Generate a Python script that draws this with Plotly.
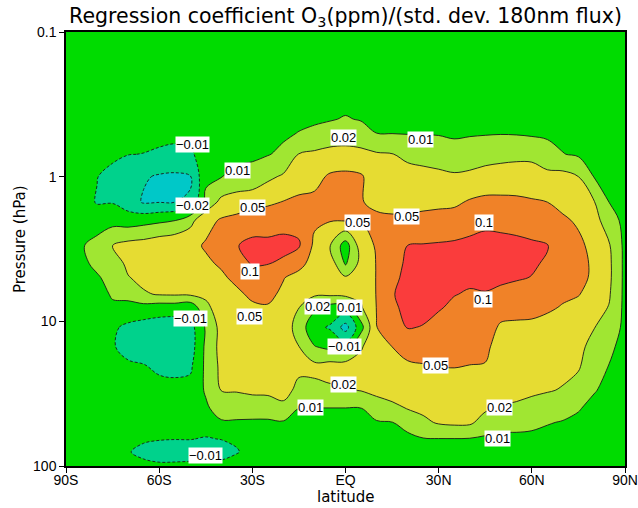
import numpy as np
import plotly.graph_objects as go

# ---------------- data ----------------
lats = list(range(-90, 95, 5))
pressures = [0.1, 0.2, 0.3, 0.4, 0.5, 0.7, 1, 1.5, 2, 3, 4, 5, 6.5, 8, 11, 15, 20, 30, 40, 50, 65, 80, 100]

# regression coefficient, in units of 0.001 ppm, one list per pressure level (lat -90 .. 90 step 5)
c_0p1 = [0]*37
c_0p2 = [0,0,0,0,0,0,0,0,0,0,0,0,0,0,0,1,1,2,2,2,1,1,1,1,1,1,1,1,1,1,1,1,0,0,0,0,0]
c_0p3 = [0,0,0,0,0,0,0,0,0,0,0,0,1,1,2,3,4,5,6,5,3,3,3,3,3,3,3,3,3,3,3,2,2,1,1,0,0]
c_0p4 = [0,0,0,0,-1,-1,-1,-1,-1,0,1,1,2,3,4,6,7,9,10.5,9,6,5,5,5,5,4,5,5,5,5,5,4,3,2,1,1,0]
c_0p5 = [0,-1,-1,-2,-3,-4,-4,-4,-4,1,2,3,4,5,7,10.3,12,13,14,13,10,9.5,9,9,8.5,7,8,8.5,9,8.5,7,6.5,5,3.5,2,1,0]
c_0p7 = [0,-3,-4,-6,-9.5,-10.2,-11.5,-13,-12,2,4,6,7,9,12,21,25,31,32,29,23,21,18,17,16,14,15,16.5,17.5,18,18,14,10.3,7.5,5,3,0]
c_1 = [0,-5,-9.5,-13,-17,-19,-22,-23,-21,5,9.5,12,13,18,24,38,42,56,60,55,35,31,30,28,26,24,26,30,31,32,31,28,30,20,9.5,6,0]
c_1p5 = [0,-4,-10.5,-10.5,-15,-22,-20.5,-20,-19.5,13,28,36,40,45,52,58,60,62,60,52,45,42,42,43,44,45,55,62,62,60,55,50,42,35,22,9.5,0]
c_2 = [0,0,-2,3,0,3,6,9,17,40,55,62,75,80,85,85,58,53,54,52,58,57,58,62,66,70,80,90,88,85,80,72,57,46,32,14,5]
c_3 = [0,8,14,20,30,33,40,45,42,55,70,98,125,120,125,110,44,21,0,35,55,70,101,106,110,115,124,128,125,120,112,104,72,60,42,22,5]
c_4 = [0,6,12,15,26,30,36,42,46,45,56,80,107,102,92,65,38,38,8,30,52,80,118,125,128,126,125,126,122,115,108,96,72,63,46,25,5]
c_5 = [0,3,8,13,19.5,27,30,36,38,35,45,62,80,80,52,40,33,40,24,30,52,88,125,132,132,120,115,118,113,106,99,88,68,61,46,25,5]
c_6p5 = [0,1,3,11,13,19,22,23,24,25,38,44,60,60,45,30,24,25,28,27,52,97,128,132,125,103,96,98,92,87,82,70,58,52,40,22,5]
c_8 = [0,0,0,7,4,3,0,0,-4,18,33,38,45,48,40,21,12,3,2,19,51,92,122,125,108,92,88,85,70,68,64,57,48,43,31,19.5,5]
c_11 = [0,-2,-4,-7,-12,-14,-15,-16,-14,11,30,35,38,40,36,16,-5,-11,-28,3,49.5,70,105,98,85,80,78,72,46,44,44,40,36,33,21,16,5]
c_15 = [0,-2,-5,-8,-14,-15,-16,-17,-15,12,30,33,35,36,35,20.5,10.5,5,0,19,40,50,72,72,68,68,66,60,38,36,35,33,30,27,17,12,3]
c_20 = [0,-1,-3,-4,-7,-9.5,-12,-13,-12,12,27,30,31,32,33,26,25,28,30,30,36,40,46,49,51,52,50,49,33,31,30,28,26,23,15,9.5,2]
c_30 = [0,0,-1,-1,-2,-3,-4,-4,-3,11,20.5,22,25,26,28,18,18.5,19,19,21,26,30,32,36,40,41,40,36,27,25,23,21.5,19.5,17,10.5,6,1]
c_40 = [0,0,0,0,-1,-1,-1,-1,-1,7,14,14,15,15,18,10,9.5,9.5,9.5,9.5,16,18,21,26,32,34,33,24,19.5,19,18,16,13,10.5,6,3,0]
c_50 = [0,0,0,-1,-2,-3,-4,-4,-4,-3,8,8,7,7,8,6,6,6,6,6,8,9.5,13,18,23,26,25,16,13,13,12,10.5,9,7,4,2,0]
c_65 = [0,-1,-2,-4,-5,-8,-9,-9.5,-9.5,-10.5,-9.5,-8,0,2,3,3,3,3,3,3,4,5,6,9,9.5,9.5,9,7,6,6,6,5,4,3,2,1,0]
c_80 = [0,-2,-3,-6,-9,-12,-14,-15,-14,-14,-14,-10.5,-5,0,1,1,1,1,1,1,2,2,2,4,4,4,4,3,3,3,3,2,2,1,1,0,0]
c_100 = [0,-1,-1,-3,-5,-6,-7,-6,-6,-5,-4,-3,-2,0,0,0,0,0,0,0,0,0,0,1,1,1,1,1,1,1,1,1,1,0,0,0,0]

rows = [c_0p1, c_0p2, c_0p3, c_0p4, c_0p5, c_0p7, c_1, c_1p5, c_2, c_3, c_4, c_5, c_6p5,
        c_8, c_11, c_15, c_20, c_30, c_40, c_50, c_65, c_80, c_100]

contour_levels = [-0.02, -0.01, 0.01, 0.02, 0.05, 0.1]
band_colors = ["#00C8C8", "#00D28C", "#00DC00", "#A0E632", "#E6DC32", "#F08228", "#FA3C3C"]

x_ticks = [-90, -60, -30, 0, 30, 60, 90]
x_ticktext = ["90S", "60S", "30S", "EQ", "30N", "60N", "90N"]
y_ticks = [0.1, 1, 10, 100]
y_ticktext = ["0.1", "1", "10", "100"]

# contour labels: latitude, pressure, text
label_lat = [-49.4, -34.9, -49.4, -30.1, -30.8, -30.8, -49.9, -0.8, 24.3, 4.0, 19.5, 44.6, 44.3,
             -9.0, 1.2, -0.2, 29.1, -0.8, -11.4, 49.7, 48.8, -45.2]
label_p = [0.60, 0.90, 1.57, 1.64, 4.49, 9.19, 9.49, 0.532, 0.557, 2.06, 1.90, 2.06, 7.11,
           7.94, 8.07, 15.0, 20.3, 27.5, 39.1, 39.6, 65.0, 85.0]
label_txt = ["\u22120.01", "0.01", "\u22120.02", "0.05", "0.1", "0.05", "\u22120.01", "0.02", "0.01", "0.05",
             "0.05", "0.1", "0.1", "0.02", "0.01", "\u22120.01", "0.05", "0.02", "0.01", "0.02", "0.01", "\u22120.01"]

# ---------------- processing ----------------
for r in rows:
    assert len(r) == len(lats)
z = np.array(rows, dtype=float) / 1000.0
bounds = [-0.04] + contour_levels + [0.2]
z_idx = np.interp(z, bounds, np.arange(len(bounds)))

nb = len(band_colors)
cscale = []
for i, c in enumerate(band_colors):
    cscale.append([i / nb, c])
    cscale.append([(i + 1) / nb, c])

fig = go.Figure()
fig.add_trace(go.Contour(
    x=lats, y=pressures, z=z_idx, zmin=0, zmax=nb, colorscale=cscale, showscale=False,
    contours=dict(start=1, end=6, size=1, coloring="fill", showlines=False),
    line=dict(width=0, smoothing=1), hoverinfo="skip"))
fig.add_trace(go.Contour(
    x=lats, y=pressures, z=z_idx, showscale=False,
    contours=dict(start=3, end=6, size=1, coloring="none"),
    line=dict(color="#1a1a1a", width=0.9, smoothing=1), hoverinfo="skip"))
fig.add_trace(go.Contour(
    x=lats, y=pressures, z=z_idx, showscale=False,
    contours=dict(start=1, end=2, size=1, coloring="none"),
    line=dict(color="#1a1a1a", width=0.9, dash="3px,2px", smoothing=1), hoverinfo="skip"))

for la, pp, tx in zip(label_lat, label_p, label_txt):
    fig.add_annotation(x=la, y=np.log10(pp), text=tx, showarrow=False,
                       font=dict(family="Liberation Sans", size=13, color="black"),
                       bgcolor="white", borderpad=0)

# axis titles
fig.add_annotation(x=0.5, xref="paper", y=-(497 - 466) / 434, yref="paper", text="latitude",
                   showarrow=False, xanchor="center", yanchor="middle",
                   font=dict(family="DejaVu Sans", size=15, color="black"))
fig.add_annotation(x=-(66 - 20) / 559, xref="paper", y=(466 - 239) / 434, yref="paper", text="Pressure (hPa)",
                   showarrow=False, xanchor="center", yanchor="middle", textangle=-90,
                   font=dict(family="DejaVu Sans", size=15, color="black"))

axis_font = dict(family="Liberation Sans", size=14, color="black")
fig.update_layout(
    width=638, height=508,
    margin=dict(l=66, r=13, t=32, b=42, autoexpand=False),
    paper_bgcolor="white", plot_bgcolor="white",
    showlegend=False,
    title=dict(text="Regression coefficient O<sub>3</sub>(ppm)/(std. dev. 180nm flux)",
               x=0.5, xref="paper", xanchor="center", y=1 - 16 / 508, yref="container", yanchor="middle",
               font=dict(family="DejaVu Sans", size=20.5, color="black")),
    xaxis=dict(range=[-90, 90], tickvals=x_ticks, ticktext=x_ticktext, ticks="outside", ticklen=5,
               tickcolor="black", showline=True, linecolor="black", linewidth=1.5, mirror=True,
               showgrid=True, gridcolor="#555555", griddash="dot", gridwidth=1, zeroline=False,
               layer="above traces", tickfont=axis_font, automargin=False, ticklabelstandoff=-5),
    yaxis=dict(type="log", range=[2, -1], tickvals=y_ticks, ticktext=y_ticktext, ticks="outside", ticklen=5,
               tickcolor="black", showline=True, linecolor="black", linewidth=1.5, mirror=True,
               showgrid=True, gridcolor="#555555", griddash="dot", gridwidth=1, zeroline=False,
               layer="above traces", tickfont=axis_font, automargin=False),
)

fig.write_html("out.html")
